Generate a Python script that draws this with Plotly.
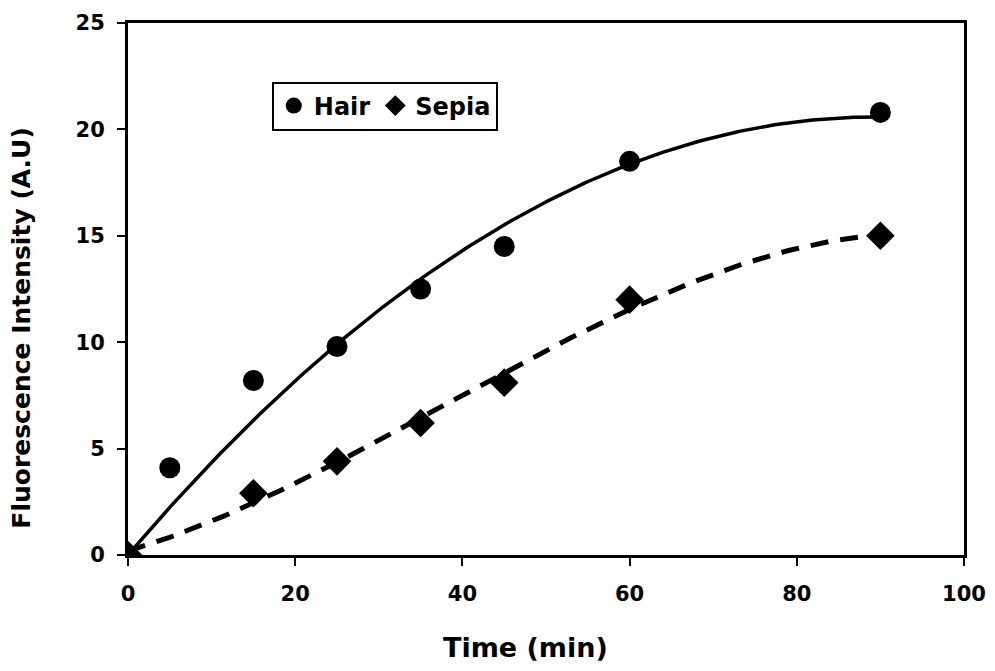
import numpy as np
import plotly.graph_objects as go

hair_t = [0, 5, 15, 25, 35, 45, 60, 90]
hair_y = [0, 4.1, 8.2, 9.8, 12.5, 14.5, 18.5, 20.8]
sepia_t = [0, 15, 25, 35, 45, 60, 90]
sepia_y = [0, 2.9, 4.4, 6.2, 8.1, 12.0, 15.0]


def poly_fit_origin(t, y, deg, xs):
    t = np.asarray(t, float)
    A = np.vstack([t**k for k in range(1, deg + 1)]).T
    c, *_ = np.linalg.lstsq(A, np.asarray(y, float), rcond=None)
    return sum(c[k - 1] * xs**k for k in range(1, deg + 1))


# polynomial trendlines fitted to the data
xt = np.linspace(0, 90, 200)
hair_fit = poly_fit_origin(hair_t, hair_y, 2, xt)
sepia_fit = np.polyval(np.polyfit(sepia_t, sepia_y, 3), xt)

font = "DejaVu Sans, Liberation Sans, Arial, sans-serif"
fig = go.Figure()
fig.add_trace(go.Scatter(x=xt, y=hair_fit, mode="lines", line=dict(color="black", width=3.5),
                         showlegend=False, hoverinfo="skip"))
fig.add_trace(go.Scatter(x=xt, y=sepia_fit, mode="lines",
                         line=dict(color="black", width=5, dash="18px,12px"),
                         showlegend=False, hoverinfo="skip"))
fig.add_trace(go.Scatter(x=hair_t, y=hair_y, mode="markers", name="<b>Hair</b>",
                         marker=dict(symbol="circle", size=21, color="black")))
fig.add_trace(go.Scatter(x=sepia_t, y=sepia_y, mode="markers", name="<b>Sepia</b>",
                         marker=dict(symbol="diamond", size=22, color="black")))

xticks = [0, 20, 40, 60, 80, 100]
yticks = [0, 5, 10, 15, 20, 25]

fig.update_layout(
    width=987, height=663,
    margin=dict(l=120, r=31, t=15, b=116, autoexpand=False),
    paper_bgcolor="white", plot_bgcolor="white",
    font=dict(family=font, color="black", size=21),
    legend=dict(x=0.172, y=0.89, xanchor="left", yanchor="top", orientation="h",
                bordercolor="black", borderwidth=2, bgcolor="white",
                font=dict(family=font, size=24, color="black"),
                itemwidth=30, tracegroupgap=0),
    xaxis=dict(range=[0, 100], tickvals=xticks,
               ticktext=[f"<b>{v}</b>" for v in xticks], tickfont=dict(size=21),
               ticks="outside", ticklen=8, tickwidth=2, tickcolor="black",
               showline=True, linecolor="black", linewidth=3, mirror=True,
               showgrid=False, zeroline=False, automargin=False),
    yaxis=dict(range=[0, 25], tickvals=yticks,
               ticktext=[f"<b>{v}</b>" for v in yticks], tickfont=dict(size=21),
               ticks="outside", ticklen=8, tickwidth=2, tickcolor="black",
               showline=True, linecolor="black", linewidth=3, mirror=True,
               showgrid=False, zeroline=False, automargin=False),
    annotations=[
        dict(text="<b>Time (min)</b>", xref="paper", yref="paper", x=0.476, y=-0.173,
             xanchor="center", yanchor="middle", showarrow=False,
             font=dict(family=font, size=27, color="black")),
        dict(text="<b>Fluorescence Intensity (A.U)</b>", xref="paper", yref="paper",
             x=-0.127, y=0.427, xanchor="center", yanchor="middle", textangle=-90,
             showarrow=False, font=dict(family=font, size=25, color="black")),
    ],
)
fig.update_xaxes(ticklabelstandoff=10)
fig.update_yaxes(ticklabelstandoff=8)
fig.write_html("out.html")
